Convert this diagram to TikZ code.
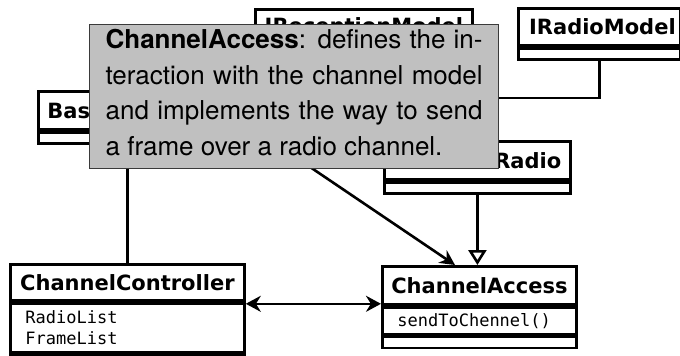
\documentclass[tikz,border=0pt]{standalone}
\usepackage{fontspec}
\newfontfamily\umlfont{DejaVu Sans}
\newfontfamily\umlmono{DejaVu Sans Mono}
\newfontfamily\notefont{TeX Gyre Heros}
\usetikzlibrary{arrows.meta,calc}
\definecolor{notegray}{HTML}{C0C0C0}
\definecolor{noteedge}{HTML}{3A3A3A}

\begin{document}
\begin{tikzpicture}[x=1pt,y=-1pt,
  classhead/.style={draw, line width=2.8pt, fill=white, inner sep=0pt, anchor=north west,
    font={\umlfont\bfseries\fontsize{21}{25}\selectfont}},
  classpart/.style={draw, line width=2.8pt, fill=white, inner xsep=15pt, inner ysep=0pt,
    anchor=north, align=left, font={\umlmono\fontsize{17}{21}\selectfont}},
  link/.style={line width=2.6pt},
  assoc/.style={link, -{Stealth[length=15pt,width=15pt]}},
  both/.style={link, {Stealth[length=15pt,width=16pt]}-{Stealth[length=15pt,width=16pt]}},
  inherit/.style={link, -{Triangle[open, length=15pt, width=18pt, fill=white]}},
  notebox/.style={draw=noteedge, line width=1.2pt, fill=notegray, anchor=north west,
    inner xsep=16pt, inner ysep=0pt, align=left,
    font={\notefont\fontsize{26}{35.5}\selectfont}}
]
\useasboundingbox (0,0) rectangle (680,356);
\clip (0,0) rectangle (680,356);

% connectors (drawn first, classes cover their ends)
\coordinate (bend) at (440,98);
\coordinate (hidden) at (284,149.4);

% classes
\node[classhead, minimum width=217, minimum height=37] (irec) at (254,8) {IReceptionModel};
\node[classpart, text width=187pt, minimum height=11] (irecops) at (irec.south) {};

\node[classhead, minimum width=162, minimum height=37] (irm) at (517,7) {\hspace*{6pt}IRadioModel};
\node[classpart, text width=132pt, minimum height=11] (irmops) at (irm.south) {};

\node[classhead, minimum width=167, minimum height=38] (base) at (37,90) {BasicModule};
\node[classpart, text width=137pt, minimum height=11] (baseops) at (base.south) {};

\node[classhead, minimum width=186, minimum height=38] (radio) at (383,140) {AbstractRadio};
\node[classpart, text width=156pt, minimum height=11] (radioops) at (radio.south) {};

\node[classhead, minimum width=234, minimum height=36] (cc) at (9,263) {ChannelController};
\node[classpart, text width=204pt, minimum height=49] (ccattr) at (cc.south) {RadioList\\FrameList};
\node[classpart, text width=204pt, minimum height=14] (ccops) at (ccattr.south) {};

\node[classhead, minimum width=194, minimum height=38] (ca) at (381,265) {ChannelAccess};
\node[classpart, text width=164pt, minimum height=27] (caattr) at (ca.south) {sendToChennel()};
\node[classpart, text width=164pt, minimum height=11] (caops) at (caattr.south) {};

\coordinate (caIn) at ([xshift=74pt]ca.north west);

% relations
\draw[link] (cc.north |- baseops.south) -- (cc.north);
\draw[link] (irmops.south) |- (bend) -- (bend |- radio.north);
\draw[assoc] (hidden) -- (caIn);
\draw[inherit] (radioops.south) -- (radioops.south |- ca.north);
\draw[both] ([yshift=-2pt]ccattr.north east) -- ([yshift=-2pt]ccattr.north east -| ca.west);

% explanatory note
\node[notebox] (note) at (89,24) {%
  \makebox[377pt][s]{\rule{0pt}{24pt}\textbf{ChannelAccess}: defines the in-}\\
  \makebox[377pt][s]{teraction with the channel model}\\
  \makebox[377pt][s]{and implements the way to send}\\
  \makebox[377pt][l]{a frame over a radio channel.\rule[-13.5pt]{0pt}{0pt}}};
\end{tikzpicture}
\end{document}
